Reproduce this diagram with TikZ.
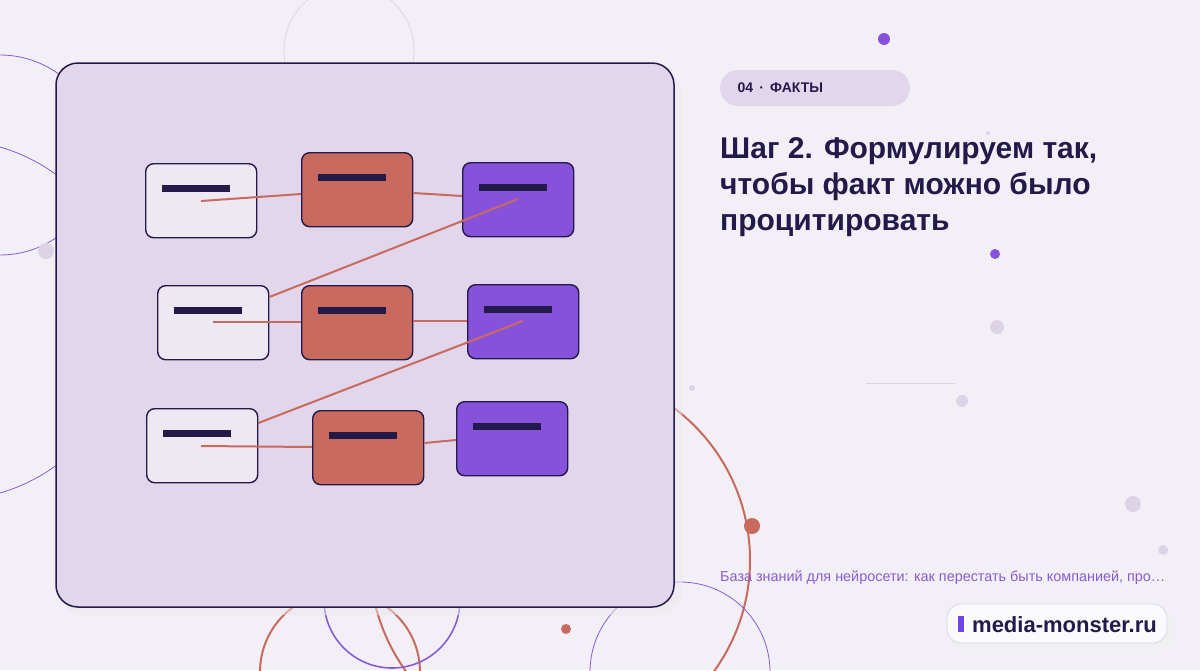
\documentclass[tikz,border=0pt]{standalone}
\usepackage{fontspec}
\setmainfont{Liberation Sans}
\usetikzlibrary{calc}
\definecolor{bg}{HTML}{F2EFF7}
\definecolor{panel}{HTML}{E2D6EC}
\definecolor{ink}{HTML}{231A4A}
\definecolor{org}{HTML}{C96A5E}
\definecolor{pur}{HTML}{8652DB}
\definecolor{lite}{HTML}{EEE8F3}
\definecolor{dotg}{HTML}{DCD4E6}
\definecolor{sub}{HTML}{8A5CD0}
\begin{document}
\begin{tikzpicture}[x=1pt,y=-1pt,
  box/.style={draw=ink,line width=1.4pt,rounded corners=8pt},
  bar/.style={fill=ink},
  link/.style={draw=org,line width=2pt},
  deco/.style={line width=0.8pt}]
\useasboundingbox (0,0) rectangle (1200,670);
\fill[bg] (0,0) rectangle (1200,670);
% decorations
\draw[deco,draw=dotg] (349,50) circle (65);
\draw[deco,draw=sub] (0,155) circle (100);
\draw[deco,draw=sub] (-50,320) circle (180);
\draw[line width=2pt,draw=org] (560,560) circle (190);
\draw[line width=2pt,draw=org] (340,672) circle (80);
\draw[line width=1.6pt,draw=sub] (392,600) circle (68);
\draw[deco,draw=sub] (680,672) circle (90);
\draw[draw=dotg,line width=0.8pt] (866,383) -- (955,383);
\fill[pur] (884,39) circle (6);
\fill[pur] (995,254) circle (5);
\fill[org] (752,526) circle (8);
\fill[org] (566,629) circle (5);
\foreach \x/\y/\r in {46/251/8,997/327/7,962/401/6,1133/504/8,1163/550/5,692/388/3,988/133/2}
  \fill[dotg] (\x,\y) circle (\r);
% panel
\fill[black!8,opacity=0.5,rounded corners=24pt] (60,69) rectangle (682,615);
\draw[fill=panel,draw=ink,line width=1.5pt,rounded corners=22pt] (56,63) rectangle (674,607);
% boxes
\foreach \n/\x/\y/\c in {a1/145/163/lite,b1/301/152/org,c1/462/162/pur,
  a2/157/285/lite,b2/301/285/org,c2/467/284/pur,
  a3/146/408/lite,b3/312/410/org,c3/456/401/pur}{
  \node[box,fill=\c,minimum width=111pt,minimum height=74pt,inner sep=0,anchor=north west] (\n) at (\x,\y) {};
  \fill[ink] ($(\n.north west)+(17,22)$) rectangle ++(68,7);
}
% link endpoints
\coordinate (p1) at (201,201); \coordinate (p2) at (518,199);
\coordinate (p3) at (213,322); \coordinate (p4) at (523,321);
\coordinate (p5) at (201,446);
\draw[link] (p1) -- (b1.west |- 0,194);
\draw[link] (b1.east |- 0,193) -- (c1.west |- 0,196);
\draw[link] (p2) -- (a2.east |- 0,297);
\draw[link] (p3) -- (b2.west |- 0,322);
\draw[link] (b2.east |- 0,321) -- (c2.west |- 0,321);
\draw[link] (p4) -- (a3.east |- 0,423);
\draw[link] (p5) -- (b3.west |- 0,447);
\draw[link] (b3.east |- 0,443) -- (c3.west |- 0,440);
% text
\fill[panel,rounded corners=18pt] (720,70) rectangle (910,106);
\node[anchor=west,text=ink,font=\bfseries\fontsize{14}{14}\selectfont] (tag) at (734,88) {04 \,·\, ФАКТЫ};
\node[anchor=north west,align=left,text=ink,inner sep=0,font=\bfseries\fontsize{30}{36}\selectfont] (title) at (720,137)
  {Шаг 2. Формулируем так,\\чтобы факт можно было\\процитировать};
\node[anchor=west,inner sep=0,text=sub,font=\fontsize{14.4}{14}\selectfont] (subt) at (720,578)
  {База знаний для нейросети: как перестать быть компанией, про…};
\fill[black!6,rounded corners=14pt] (950,609) rectangle (1172,649);
\draw[fill=white!60!bg,draw=dotg,line width=0.8pt,rounded corners=14pt] (947,604) rectangle (1167,643);
\fill[pur!85!blue] (958,616) rectangle (964,632);
\node[anchor=west,inner sep=0,text=ink,font=\bfseries\fontsize{22}{22}\selectfont] (site) at (972,625) {media-monster.ru};
\end{tikzpicture}
\end{document}
